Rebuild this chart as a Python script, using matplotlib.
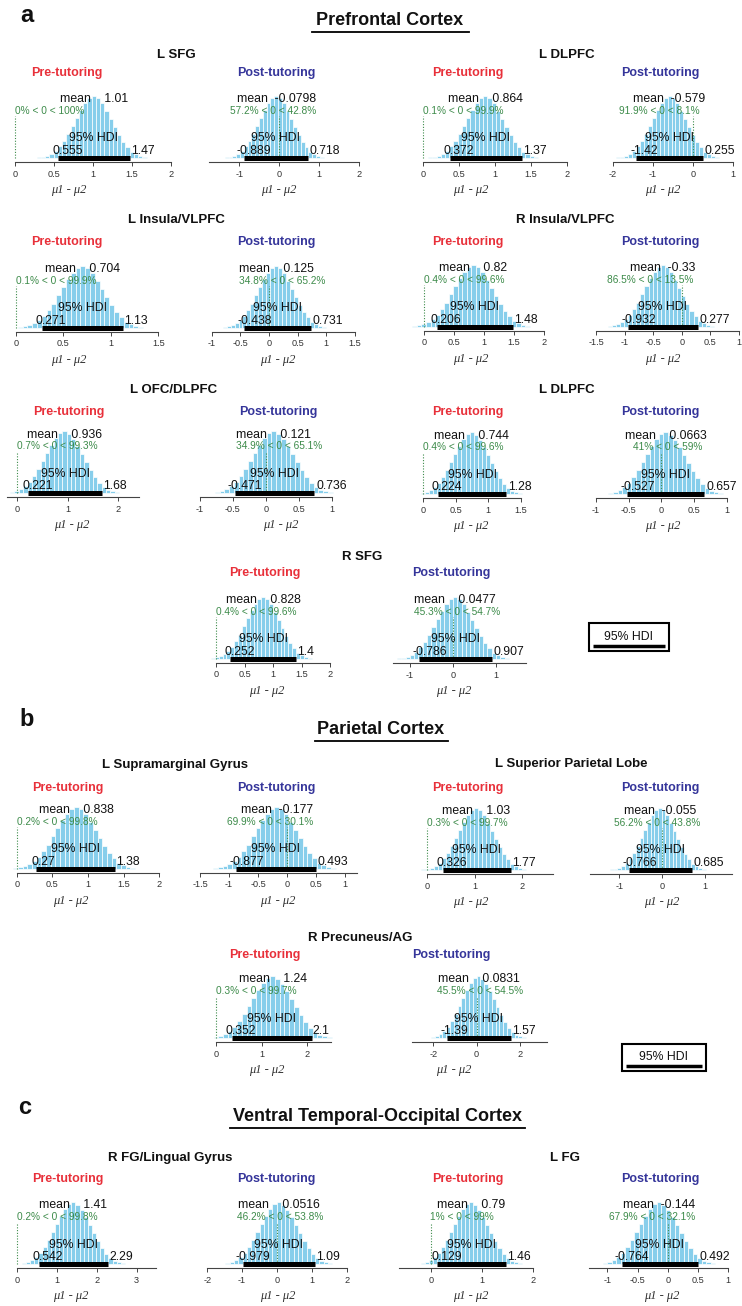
import matplotlib.pyplot as plt
from matplotlib.transforms import offset_copy
from matplotlib.lines import Line2D
from matplotlib.patches import Rectangle

plt.rcParams['font.family'] = ['Liberation Sans', 'DejaVu Sans']

W, H = 742, 1306

# ---- values (pre / post pairs, row by row) ----
means = [1.01, -0.0798, 0.864, -0.579, 0.704, 0.125, 0.82, -0.33,
         0.936, 0.121, 0.744, 0.0663, 0.828, 0.0477,
         0.838, -0.177, 1.03, -0.055, 1.24, 0.0831,
         1.41, 0.0516, 0.79, -0.144]
hdi_lo = [0.555, -0.889, 0.372, -1.42, 0.271, -0.438, 0.206, -0.932,
          0.221, -0.471, 0.224, -0.527, 0.252, -0.786,
          0.27, -0.877, 0.326, -0.766, 0.352, -1.39,
          0.542, -0.979, 0.129, -0.764]
hdi_hi = [1.47, 0.718, 1.37, 0.255, 1.13, 0.731, 1.48, 0.277,
          1.68, 0.736, 1.28, 0.657, 1.4, 0.907,
          1.38, 0.493, 1.77, 0.685, 2.1, 1.57,
          2.29, 1.09, 1.46, 0.492]
pct_lt = [0, 57.2, 0.1, 91.9, 0.1, 34.8, 0.4, 86.5, 0.7, 34.9, 0.4, 41,
          0.4, 45.3, 0.2, 69.9, 0.3, 56.2, 0.3, 45.5, 0.2, 46.2, 1, 67.9]
pct_gt = [100, 42.8, 99.9, 8.1, 99.9, 65.2, 99.6, 13.5, 99.3, 65.1, 99.6, 59,
          99.6, 54.7, 99.8, 30.1, 99.7, 43.8, 99.7, 54.5, 99.8, 53.8, 99, 32.1]
ticks = [[0, 0.5, 1, 1.5, 2], [-1, 0, 1, 2], [0, 0.5, 1, 1.5, 2], [-2, -1, 0, 1],
         [0, 0.5, 1, 1.5], [-1, -0.5, 0, 0.5, 1, 1.5], [0, 0.5, 1, 1.5, 2], [-1.5, -1, -0.5, 0, 0.5, 1],
         [0, 1, 2], [-1, -0.5, 0, 0.5, 1], [0, 0.5, 1, 1.5], [-1, -0.5, 0, 0.5, 1],
         [0, 0.5, 1, 1.5, 2], [-1, 0, 1],
         [0, 0.5, 1, 1.5, 2], [-1.5, -1, -0.5, 0, 0.5, 1], [0, 1, 2], [-1, 0, 1],
         [0, 1, 2], [-2, 0, 2],
         [0, 1, 2, 3], [-2, -1, 0, 1, 2], [0, 1, 2], [-1, -0.5, 0, 0.5, 1]]
# relative bar heights of the posterior histograms (common shape)
profile = [0.01, 0.02, 0.04, 0.07, 0.12, 0.19, 0.28, 0.39, 0.52, 0.65, 0.78, 0.89, 0.97,
           1.00, 0.96, 0.88, 0.76, 0.63, 0.50, 0.37, 0.26, 0.17, 0.10, 0.06, 0.03, 0.015]
regions = ["L SFG", "L DLPFC", "L Insula/VLPFC", "R Insula/VLPFC", "L OFC/DLPFC", "L DLPFC",
           "R SFG", "L Supramarginal Gyrus", "L Superior Parietal Lobe", "R Precuneus/AG",
           "R FG/Lingual Gyrus", "L FG"]
sections = ["Prefrontal Cortex", "Parietal Cortex", "Ventral Temporal-Occipital Cortex"]
letters = ["a", "b", "c"]

# ---- layout (pixels) ----
# two reference ticks per panel: (value, x pixel), (value, x pixel)
ref = [((0, 15.0), (2, 171.0)), ((-1, 239.3), (2, 359.3)), ((0, 423.3), (2, 566.7)), ((-2, 612.7), (1, 732.7)),
       ((0, 16.0), (1.5, 158.3)), ((-1, 211.7), (1.5, 355.0)), ((0, 424.3), (2, 544.0)), ((-1.5, 596.0), (0, 681.7)),
       ((0, 17.3), (2, 118.3)), ((-1, 200.0), (1, 331.7)), ((0, 423.3), (1.5, 520.7)), ((-1, 596.0), (1, 726.7)),
       ((0, 216.0), (2, 330.0)), ((-1, 410.0), (1, 496.0)),
       ((0, 16.7), (2, 159.3)), ((-1.5, 200.0), (1, 345.0)), ((0, 427.3), (2, 521.7)), ((-1, 619.3), (1, 705.0)),
       ((0, 216.0), (2, 307.3)), ((-2, 433.3), (2, 520.0)),
       ((0, 17.3), (3, 136.7)), ((-2, 207.3), (2, 346.7)), ((0, 430.7), (2, 533.3)), ((-1, 607.3), (1, 728.3))]
axis_y = [162, 162, 162, 162, 331.7, 331.7, 330.7, 330.7, 497.3, 497.3, 498.3, 498.3,
          662.7, 663, 872.7, 872.7, 874, 874, 1042.3, 1042.3, 1268.3, 1268.3, 1268.3, 1268.3]
line_ext = [(0, 2), (-1.75, 2), (0, 2), (-2, 1), (0, 1.5), (-1, 1.5), (0, 2), (-1.5, 1),
            (-0.2, 2.4), (-1, 1), (0, 1.5), (-1, 1), (0, 2), (-1.4, 1.7),
            (0, 2), (-1.5, 1.21), (0, 2.67), (-1.68, 1.63), (0, 2.53), (-3, 3.23),
            (0, 3.49), (-2, 2), (-0.61, 2), (-1.31, 1)]
# region title (x, y), pre title x, post title x, pre/post title y
group_pos = [(176.7, 55, 66.7, 276.7, 73), (566.7, 55, 468.3, 660.7, 73),
             (176.7, 220, 66.7, 276, 241.7), (565, 220, 468.3, 660.7, 241.7),
             (173.3, 390, 69.3, 278.3, 411.7), (566.7, 390, 468.3, 660.7, 411.7),
             (361.7, 556.7, 265, 451.7, 573.3),
             (175, 765, 68.3, 276, 788.3), (571.7, 764.3, 468.3, 660, 788.3),
             (360, 937.7, 265, 451.7, 955),
             (170, 1158.3, 68.3, 276, 1179.3), (565, 1158.3, 468.3, 660, 1179.3)]
section_pos = [(390, 20.7, 312, 469, 32.3), (381, 729, 315, 448, 740.7), (377.5, 1116.7, 230, 525, 1127.7)]
letter_pos = [(27, 15), (27, 720), (25, 1107)]
legend_pos = [(589.3, 623.3, 668.7, 650.7), (621.7, 1044, 706, 1070.7)]

PEAK = 62
RED, BLUE, GREEN = '#e8303a', '#35359a', '#3d8b4a'
BAR = '#87CEEB'
FS = 8.8

fig = plt.figure(figsize=(W / 100, H / 100), dpi=100)


def fx(x):
    return x / W


def fy(y):
    return 1 - y / H


def fmt(v):
    return '%g' % v


shifted = []  # (text, axes, fraction of width to the left of anchor)
for i in range(len(means)):
    (v1, p1), (v2, p2) = ref[i]
    s = (p2 - p1) / (v2 - v1)
    a, b = line_ext[i]
    left = p1 + (a - v1) * s
    right = p1 + (b - v1) * s
    base = axis_y[i] - 4
    ax = fig.add_axes([fx(left), fy(base), (right - left) / W, PEAK / H])
    ax.set_xlim(a, b)
    ax.set_ylim(0, 1)
    ax.patch.set_visible(False)
    for sp in ['top', 'left', 'right']:
        ax.spines[sp].set_visible(False)
    ax.spines['bottom'].set_position(('outward', 2.9))
    ax.spines['bottom'].set_bounds(a, b)
    ax.spines['bottom'].set_color('#444444')
    ax.spines['bottom'].set_linewidth(0.8)
    ax.set_yticks([])
    ax.set_xticks(ticks[i])
    ax.set_xticklabels([fmt(t) for t in ticks[i]])
    ax.tick_params(axis='x', length=3, width=0.7, pad=2.5, labelsize=6.6,
                   colors='#444444', labelcolor='#333333')

    w = (hdi_hi[i] - hdi_lo[i]) / 16.9
    centers = [means[i] + (k - 13) * w for k in range(len(profile))]
    ax.bar(centers, profile, width=w, color=BAR, edgecolor='white',
           linewidth=0.5, clip_on=False, zorder=1)

    ax.plot([hdi_lo[i], hdi_hi[i]], [0, 0], color='black', lw=3.6,
            solid_capstyle='butt', clip_on=False, zorder=3)
    ax.plot([0, 0], [0, 0.67], color=GREEN, lw=0.8, ls=(0, (1, 1.5)),
            clip_on=False, zorder=2)

    mtxt = ('mean    ' if means[i] >= 0 else 'mean  ') + fmt(means[i])
    ax.text(means[i], 0.9, mtxt, ha='center', va='baseline', fontsize=FS,
            color='#111111', zorder=4)
    t = ax.text(0, 0.71, '%s%% < 0 < %s%%' % (fmt(pct_lt[i]), fmt(pct_gt[i])),
                ha='left', va='baseline', fontsize=7.3, color=GREEN, zorder=4)
    shifted.append((t, ax, pct_lt[i] / 100))
    ax.text((hdi_lo[i] + hdi_hi[i]) / 2, 0.27, '95% HDI', ha='center',
            va='baseline', fontsize=FS, color='#111111', zorder=4)
    t = ax.text(hdi_lo[i], 0.065, fmt(hdi_lo[i]), ha='left', va='baseline',
                fontsize=FS, color='#111111', zorder=4)
    shifted.append((t, ax, 0.2))
    t = ax.text(hdi_hi[i], 0.065, fmt(hdi_hi[i]), ha='left', va='baseline',
                fontsize=FS, color='#111111', zorder=4)
    shifted.append((t, ax, -0.06))

# titles
for g, name in enumerate(regions):
    rx, ry, prex, postx, ty = group_pos[g]
    fig.text(fx(rx), fy(ry), name, ha='center', va='center', fontsize=9.5,
             fontweight='bold', color='#111111')
    fig.text(fx(prex), fy(ty), 'Pre-tutoring', ha='center', va='center',
             fontsize=9, fontweight='bold', color=RED)
    fig.text(fx(postx), fy(ty), 'Post-tutoring', ha='center', va='center',
             fontsize=9, fontweight='bold', color=BLUE)

# x labels (one per panel, under each title column)
panel_x = []
for g in range(len(regions)):
    panel_x += [group_pos[g][2], group_pos[g][3]]
for i in range(len(means)):
    fig.text(fx(panel_x[i] + 2), fy(axis_y[i] + 28), 'μ1 - μ2', ha='center',
             va='center', fontsize=9, family='Liberation Serif', style='italic',
             color='#333333')

# section headings
for k, name in enumerate(sections):
    cx, cy, u0, u1, uy = section_pos[k]
    fig.text(fx(cx), fy(cy), name, ha='center', va='center', fontsize=13,
             fontweight='bold', color='#111111')
    fig.add_artist(Line2D([fx(u0), fx(u1)], [fy(uy), fy(uy)], color='black', lw=1.3))
    lx, ly = letter_pos[k]
    fig.text(fx(lx), fy(ly), letters[k], ha='center', va='center', fontsize=17,
             fontweight='bold', color='#111111')

# legend boxes
for (x0, y0, x1, y1) in legend_pos:
    fig.add_artist(Rectangle((fx(x0), fy(y1)), fx(x1) - fx(x0), fy(y0) - fy(y1),
                             fill=False, edgecolor='black', lw=1.5))
    fig.text(fx((x0 + x1) / 2), fy(y0 + 0.5 * (y1 - y0)), '95% HDI', ha='center',
             va='center', fontsize=FS, color='#111111')
    yl = y1 - 0.16 * (y1 - y0)
    fig.add_artist(Line2D([fx(x0 + 4), fx(x1 - 4)], [fy(yl), fy(yl)], color='black',
                          lw=2.5, solid_capstyle='butt'))

# fractional horizontal anchoring like R's adj
fig.canvas.draw()
for t, ax, frac in shifted:
    wpx = t.get_window_extent().width
    t.set_transform(offset_copy(ax.transData, fig=fig, x=-frac * wpx, y=0, units='dots'))

fig.savefig('out.png', dpi=100, facecolor='white')
